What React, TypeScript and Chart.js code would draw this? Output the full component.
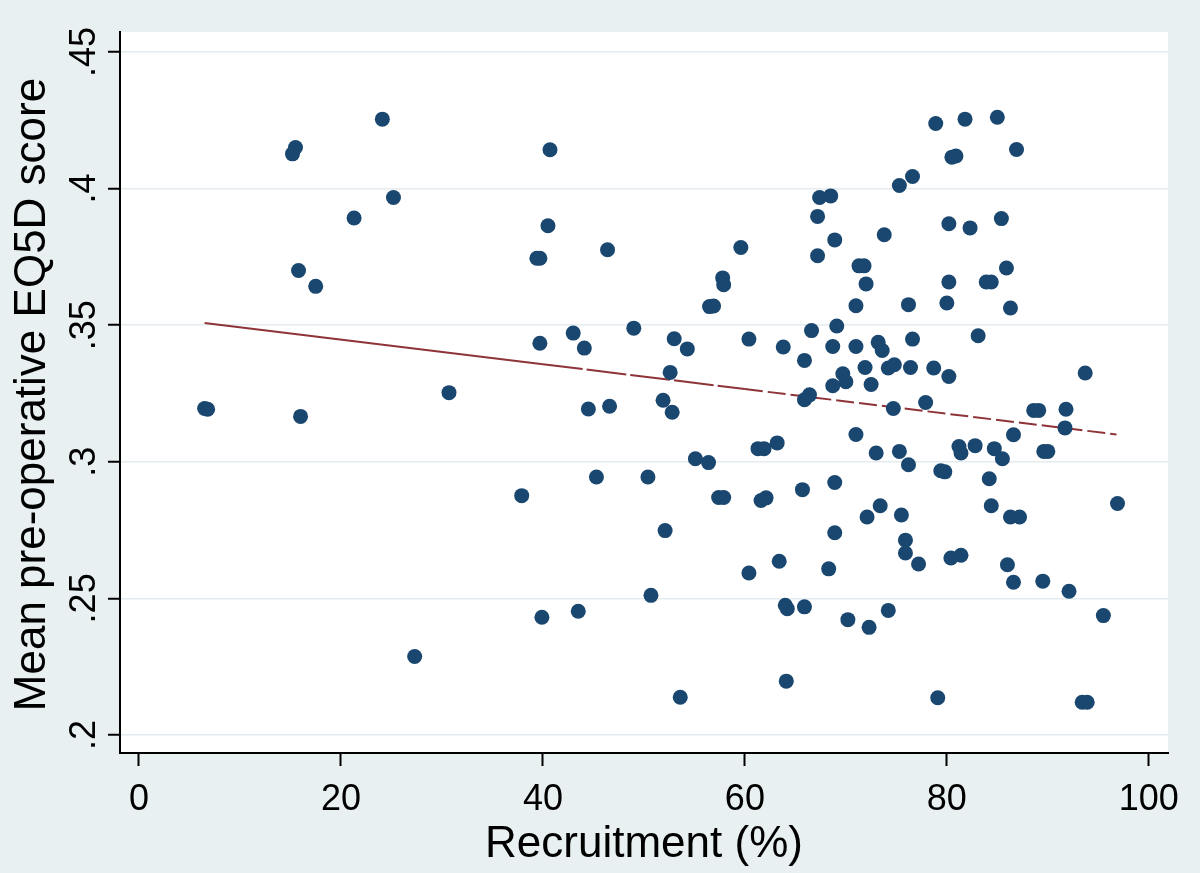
import React, { useEffect, useRef } from "react";
import { Chart, registerables } from "chart.js";

Chart.register(...registerables);

// Recruitment (%) for each centre
const recruitment = [
  6.5, 6.8, 15.2, 15.5, 15.8, 17.5, 16.0, 24.1, 21.3, 25.2,
  27.3, 30.7, 40.7, 40.5, 39.4, 39.7, 46.4, 59.6, 57.8, 57.9,
  56.5, 56.9, 78.9, 81.8, 85.0, 86.9, 80.5, 80.9, 75.3, 76.6,
  67.4, 68.5, 67.2, 68.9, 67.2, 73.8, 71.3, 71.8, 72.0, 80.2,
  82.3, 85.4, 85.9, 80.2, 83.9, 84.4, 71.0, 76.2, 80.0, 86.3,
  66.6, 69.1, 68.7, 71.0, 73.2, 73.6, 76.6, 83.1, 65.9, 71.9,
  74.2, 74.8, 76.4, 78.7, 80.2, 69.7, 70.0, 68.7, 72.5, 65.9,
  66.4, 77.9, 74.7, 88.6, 89.1, 91.8, 91.7, 93.7, 86.6, 71.0,
  73.0, 75.3, 76.2, 81.2, 81.4, 82.8, 84.7, 85.5, 89.6, 90.0,
  79.4, 79.8, 84.2, 65.7, 68.9, 84.4, 73.4, 72.1, 75.5, 86.3,
  87.2, 68.9, 75.9, 75.9, 77.2, 80.4, 81.4, 68.3, 86.0, 86.6,
  89.5, 92.1, 96.9, 65.9, 70.2, 72.3, 74.2, 79.1, 93.4, 93.9,
  95.5, 39.9, 43.5, 50.7, 53.6, 64.0, 64.2, 64.1, 39.7, 43.0,
  44.1, 49.0, 53.0, 54.3, 60.4, 63.8, 52.6, 44.5, 46.6, 51.9,
  52.8, 61.3, 61.9, 63.2, 55.1, 56.4, 45.3, 50.4, 37.9, 57.4,
  57.9, 61.6, 62.1, 52.1, 60.4, 63.4,
];

// Mean pre-operative EQ5D score for each centre
const eq5dScore = [
  0.3195, 0.3192, 0.4127, 0.4150, 0.3700, 0.3642, 0.3166, 0.4254, 0.3892, 0.3967,
  0.2287, 0.3253, 0.4142, 0.3864, 0.3745, 0.3745, 0.3776, 0.3784, 0.3673, 0.3648,
  0.3568, 0.3570, 0.4238, 0.4254, 0.4261, 0.4143, 0.4115, 0.4119, 0.4011, 0.4044,
  0.3967, 0.3973, 0.3898, 0.3812, 0.3754, 0.3831, 0.3717, 0.3717, 0.3651, 0.3871,
  0.3856, 0.3890, 0.3709, 0.3658, 0.3658, 0.3658, 0.3571, 0.3575, 0.3581, 0.3563,
  0.3480, 0.3497, 0.3422, 0.3422, 0.3437, 0.3407, 0.3449, 0.3461, 0.3371, 0.3345,
  0.3343, 0.3355, 0.3345, 0.3343, 0.3312, 0.3322, 0.3293, 0.3278, 0.3283, 0.3227,
  0.3245, 0.3217, 0.3195, 0.3188, 0.3188, 0.3192, 0.3124, 0.3325, 0.3099, 0.3100,
  0.3032, 0.3038, 0.2989, 0.3056, 0.3032, 0.3059, 0.3048, 0.3011, 0.3038, 0.3038,
  0.2967, 0.2963, 0.2938, 0.2898, 0.2924, 0.2839, 0.2839, 0.2798, 0.2805, 0.2798,
  0.2798, 0.2740, 0.2713, 0.2666, 0.2626, 0.2648, 0.2658, 0.2608, 0.2623, 0.2559,
  0.2563, 0.2526, 0.2847, 0.2469, 0.2422, 0.2394, 0.2456, 0.2136, 0.2120, 0.2120,
  0.2437, 0.2431, 0.2453, 0.2511, 0.2138, 0.2475, 0.2462, 0.2197, 0.3434, 0.3471,
  0.3416, 0.3489, 0.3450, 0.3413, 0.3449, 0.3420, 0.3327, 0.3193, 0.3203, 0.3225,
  0.3181, 0.3048, 0.3048, 0.3069, 0.3011, 0.2997, 0.2944, 0.2944, 0.2876, 0.2869,
  0.2869, 0.2858, 0.2868, 0.2748, 0.2593, 0.2636,
];

// Fitted line
const fitRecruitment = [6.5, 40, 60, 96.8];
const fitScore = [0.3508, 0.3357, 0.3266, 0.31];

const xTicks = [0, 20, 40, 60, 80, 100];
const xTickLabels = ["0", "20", "40", "60", "80", "100"];
const yTicks = [0.2, 0.25, 0.3, 0.35, 0.4, 0.45];
const yTickLabels = [".2", ".25", ".3", ".35", ".4", ".45"];

const xTitle = "Recruitment (%)";
const yTitle = "Mean pre-operative EQ5D score";

const FONT = '"Liberation Sans", Arial, Helvetica, sans-serif';
const BG = "#e9f0f2";

const bgPlugin = {
  id: "stataBackground",
  beforeDraw(chart: any) {
    const { ctx, chartArea: a, width, height } = chart;
    ctx.save();
    ctx.fillStyle = BG;
    ctx.fillRect(0, 0, width, height);
    ctx.fillStyle = "#ffffff";
    ctx.fillRect(a.left, a.top, a.right - a.left, a.bottom - a.top);
    ctx.restore();
  },
};

const textPlugin = {
  id: "stataText",
  afterDraw(chart: any) {
    const { ctx, chartArea: a, scales } = chart;
    const xs = scales.x;
    const ys = scales.y;
    ctx.save();
    ctx.fillStyle = "#000000";
    ctx.textAlign = "center";
    ctx.textBaseline = "alphabetic";
    ctx.font = `36px ${FONT}`;
    xTicks.forEach((v, i) => {
      ctx.fillText(xTickLabels[i], xs.getPixelForValue(v), a.bottom + 57);
    });
    yTicks.forEach((v, i) => {
      ctx.save();
      ctx.translate(a.left - 25, ys.getPixelForValue(v));
      ctx.rotate(-Math.PI / 2);
      ctx.fillText(yTickLabels[i], 0, 0);
      ctx.restore();
    });
    ctx.font = `44px ${FONT}`;
    ctx.fillText(xTitle, (a.left + a.right) / 2, a.bottom + 104);
    ctx.save();
    ctx.translate(a.left - 75, (a.top + a.bottom) / 2 + 2);
    ctx.rotate(-Math.PI / 2);
    ctx.fillText(yTitle, 0, 0);
    ctx.restore();
    ctx.restore();
  },
};

export default function App() {
  const canvasRef = useRef<HTMLCanvasElement | null>(null);

  useEffect(() => {
    document.body.style.margin = "0";
    document.body.style.overflow = "hidden";
    const canvas = canvasRef.current;
    if (!canvas) return;

    const scatterData = recruitment.map((x, i) => ({ x, y: eq5dScore[i] }));
    const fitData = fitRecruitment.map((x, i) => ({ x, y: fitScore[i] }));

    const chart = new Chart(canvas, {
      type: "scatter",
      data: {
        datasets: [
          {
            type: "scatter",
            data: scatterData,
            pointRadius: 7.5,
            pointHoverRadius: 7.5,
            pointBackgroundColor: "#1a476f",
            pointBorderWidth: 0,
            borderWidth: 0,
          } as any,
          {
            type: "line",
            data: fitData,
            showLine: true,
            borderColor: "#8e3438",
            borderWidth: 2,
            pointRadius: 0,
            fill: false,
            tension: 0,
            segment: {
              borderDash: (c: any) =>
                c.p0DataIndex === 0 ? [] : c.p0DataIndex === 1 ? [40, 4] : [18, 5],
            },
          } as any,
        ],
      },
      options: {
        responsive: false,
        animation: false,
        devicePixelRatio: 1,
        layout: { padding: { top: 32, right: 32, left: 0, bottom: 0 } },
        plugins: {
          legend: { display: false },
          tooltip: { enabled: false },
        },
        events: [],
        scales: {
          x: {
            type: "linear",
            min: -1.88,
            max: 101.9,
            afterBuildTicks: (s: any) => {
              s.ticks = xTicks.map((v) => ({ value: v }));
            },
            afterFit: (s: any) => {
              s.height = 120;
            },
            ticks: { display: false },
            grid: {
              display: true,
              drawOnChartArea: false,
              drawTicks: true,
              tickLength: 13,
              tickColor: "#000000",
              tickWidth: 2,
            },
            border: { display: true, color: "#000000", width: 2 },
          },
          y: {
            type: "linear",
            min: 0.1934,
            max: 0.4573,
            afterBuildTicks: (s: any) => {
              s.ticks = yTicks.map((v) => ({ value: v }));
            },
            afterFit: (s: any) => {
              s.width = 120;
            },
            ticks: { display: false },
            grid: {
              display: true,
              drawOnChartArea: true,
              color: "#e4ecef",
              lineWidth: 1.5,
              drawTicks: true,
              tickLength: 12,
              tickColor: "#000000",
              tickWidth: 2,
            },
            border: { display: true, color: "#000000", width: 2 },
          },
        },
      } as any,
      plugins: [bgPlugin, textPlugin],
    });

    return () => {
      chart.destroy();
    };
  }, []);

  return (
    <div style={{ width: 1200, height: 873 }}>
      <canvas ref={canvasRef} width={1200} height={873} style={{ display: "block" }} />
    </div>
  );
}
